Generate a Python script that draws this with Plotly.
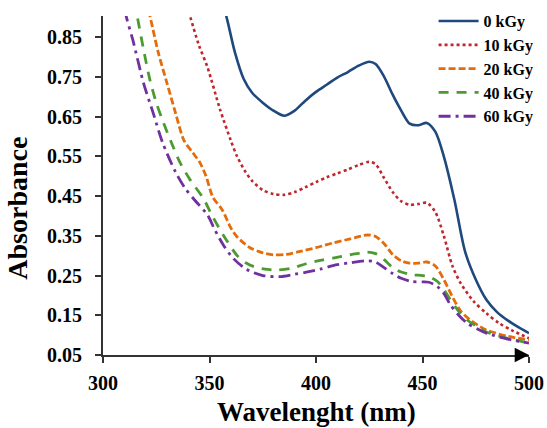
import plotly.graph_objects as go

# ---- data ----
wl_0 = [350, 358, 362, 366, 370, 375, 380, 385, 390, 395, 400, 405, 410, 415, 420, 425, 428, 432, 436, 440, 444, 448, 452, 456, 460, 465, 470, 475, 480, 485, 490, 495, 500]
abs_0 = [1.05, 0.90, 0.81, 0.745, 0.71, 0.685, 0.665, 0.652, 0.665, 0.69, 0.712, 0.73, 0.748, 0.762, 0.778, 0.788, 0.782, 0.75, 0.705, 0.665, 0.632, 0.628, 0.634, 0.612, 0.55, 0.44, 0.31, 0.24, 0.189, 0.158, 0.137, 0.12, 0.105]

wl_10 = [335, 341, 345, 349, 355, 360, 363, 367, 370, 375, 380, 385, 390, 395, 400, 405, 410, 415, 420, 425, 428, 432, 436, 440, 444, 448, 452, 456, 460, 464, 468, 474, 480, 486, 492, 500]
abs_10 = [1.0, 0.90, 0.83, 0.775, 0.667, 0.59, 0.549, 0.51, 0.488, 0.465, 0.455, 0.453, 0.46, 0.472, 0.485, 0.497, 0.507, 0.517, 0.528, 0.536, 0.53, 0.495, 0.46, 0.437, 0.428, 0.43, 0.433, 0.41, 0.35, 0.275, 0.23, 0.185, 0.155, 0.13, 0.112, 0.092]

wl_20 = [318, 322, 326, 330, 334, 338, 342, 345.5, 348.5, 351.5, 356, 360, 363, 369, 375, 380, 386, 392, 400, 408, 416, 424, 428, 432, 436, 440, 444, 448, 452, 456, 460, 464, 468, 472, 476, 480, 490, 500]
abs_20 = [0.99, 0.904, 0.81, 0.735, 0.66, 0.59, 0.56, 0.534, 0.498, 0.448, 0.415, 0.37, 0.347, 0.32, 0.307, 0.302, 0.303, 0.31, 0.32, 0.332, 0.342, 0.352, 0.348, 0.33, 0.303, 0.287, 0.281, 0.281, 0.284, 0.274, 0.24, 0.197, 0.16, 0.14, 0.125, 0.113, 0.097, 0.088]

wl_40 = [313, 316, 319, 322, 325, 328, 332, 336, 341, 347, 351.5, 357, 363, 367, 371, 376, 382, 388, 395, 402, 408, 416, 424, 428, 432, 436, 440, 445, 450, 453, 457, 460, 463, 467, 471, 476, 480, 490, 500]
abs_40 = [0.985, 0.904, 0.82, 0.743, 0.685, 0.64, 0.586, 0.536, 0.49, 0.445, 0.398, 0.347, 0.3, 0.282, 0.272, 0.266, 0.264, 0.268, 0.279, 0.288, 0.294, 0.302, 0.309, 0.305, 0.29, 0.27, 0.259, 0.252, 0.25, 0.247, 0.235, 0.215, 0.19, 0.16, 0.138, 0.12, 0.108, 0.092, 0.08]

wl_60 = [308, 311, 314, 319, 323.5, 328, 334, 338.5, 343, 349, 352.5, 356.5, 361, 367.5, 375, 383, 390, 396, 402, 408, 416, 424, 428, 432, 436, 440, 445, 450, 453, 457, 460, 463, 467, 471, 476, 480, 490, 500]
abs_60 = [0.98, 0.9, 0.843, 0.735, 0.66, 0.584, 0.511, 0.47, 0.44, 0.403, 0.365, 0.327, 0.294, 0.265, 0.25, 0.247, 0.253, 0.259, 0.266, 0.275, 0.282, 0.287, 0.284, 0.27, 0.255, 0.243, 0.235, 0.234, 0.233, 0.222, 0.205, 0.177, 0.15, 0.13, 0.115, 0.105, 0.09, 0.08]

series_names = ["0 kGy", "10 kGy", "20 kGy", "40 kGy", "60 kGy"]
x_ticks = [300, 350, 400, 450, 500]
y_ticks = [0.05, 0.15, 0.25, 0.35, 0.45, 0.55, 0.65, 0.75, 0.85]

colors = ["#1F497D", "#C0272D", "#E46C0A", "#4E9A32", "#7030A0"]
dashes = ["solid", "dot", "7px,3px", "10px,8px", "12px,5px,3px,5px"]
widths = [2.6, 2.6, 2.8, 2.8, 2.8]

FONT = "Liberation Serif"

fig = go.Figure()
for name, xs, ys, c, d, w in zip(series_names,
                                  [wl_0, wl_10, wl_20, wl_40, wl_60],
                                  [abs_0, abs_10, abs_20, abs_40, abs_60],
                                  colors, dashes, widths):
    fig.add_trace(go.Scatter(x=xs, y=ys, mode="lines", name=name,
                             line=dict(color=c, dash=d, width=w, shape="spline", smoothing=0.8)))

fig.update_layout(
    width=547, height=428,
    margin=dict(l=103, r=18, t=16, b=73, autoexpand=False),
    paper_bgcolor="white", plot_bgcolor="white",
    font=dict(family=FONT, color="black"),
    showlegend=True,
    legend=dict(x=0.776, y=1.035, xanchor="left", yanchor="top",
                bgcolor="rgba(255,255,255,0)",
                font=dict(family=FONT, size=16, color="black", weight="bold"),
                tracegroupgap=0, itemwidth=40),
    xaxis=dict(range=[300, 500], tickvals=x_ticks, ticktext=[str(v) for v in x_ticks],
               showgrid=False, zeroline=False, showline=True, linecolor="#333333", linewidth=2,
               ticks="outside", ticklen=6, tickcolor="#333333", tickwidth=1.5, ticklabelstandoff=3,
               tickfont=dict(family=FONT, size=20, color="black", weight="bold")),
    yaxis=dict(range=[0.05, 0.903], tickvals=y_ticks, ticktext=[f"{v:.2f}" for v in y_ticks],
               showgrid=False, zeroline=False, showline=True, linecolor="#333333", linewidth=2,
               ticks="outside", ticklen=6, tickcolor="#333333", tickwidth=1.5, ticklabelstandoff=9,
               tickfont=dict(family=FONT, size=20, color="black", weight="bold")),
)

fig.add_annotation(x=0.5, y=-0.168, xref="paper", yref="paper", xanchor="center", yanchor="middle",
                   text="Wavelenght (nm)", showarrow=False,
                   font=dict(family=FONT, size=27, color="black", weight="bold"))
fig.add_annotation(x=-0.2, y=0.434, xref="paper", yref="paper", xanchor="center", yanchor="middle",
                   text="Absorbance", textangle=-90, showarrow=False,
                   font=dict(family=FONT, size=28, color="black", weight="bold"))
# arrow head at the right end of the x axis
fig.add_annotation(x=500, y=0.05, xref="x", yref="y", ax=-14, ay=0, axref="pixel", ayref="pixel",
                   text="", showarrow=True, arrowhead=2, arrowsize=1.3, arrowwidth=2.2,
                   arrowcolor="black", standoff=0)

fig.write_html("out.html", config={"displayModeBar": False},
               post_script="document.body.style.margin='0';document.body.style.overflow='hidden';")
